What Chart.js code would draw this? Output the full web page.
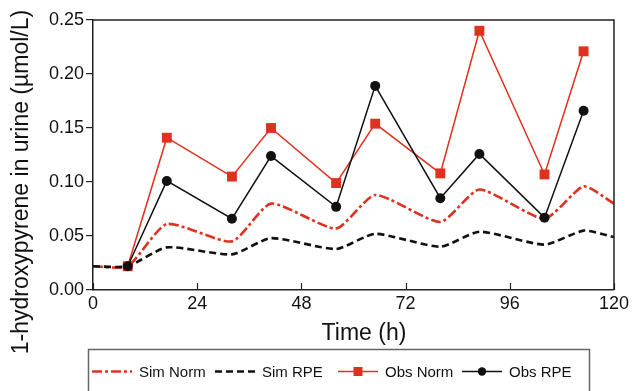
<!DOCTYPE html>
<html><head><meta charset="utf-8">
<script src="https://cdn.jsdelivr.net/npm/chart.js@4"></script>
<style>html,body{margin:0;padding:0;background:#fff}#wrap{width:632px;height:391px}</style>
</head><body><div id="wrap"><canvas id="c" width="632" height="391"></canvas></div>
<script>
const simTime = [0, 8, 17, 32, 41, 56, 65, 80, 89, 104, 113, 120];
const simNorm = [0.022, 0.022, 0.061, 0.045, 0.080, 0.057, 0.088, 0.063, 0.093, 0.066, 0.096, 0.080];
const simRPE  = [0.022, 0.022, 0.0395, 0.033, 0.048, 0.038, 0.052, 0.040, 0.054, 0.042, 0.055, 0.049];
const obsTime = [8, 17, 32, 41, 56, 65, 80, 89, 104, 113];
const obsNorm = [0.022, 0.141, 0.105, 0.150, 0.099, 0.154, 0.108, 0.240, 0.107, 0.221];
const obsRPE  = [0.022, 0.101, 0.066, 0.124, 0.077, 0.189, 0.085, 0.126, 0.067, 0.166];
const xTicks = [0, 24, 48, 72, 96, 120];
const yTicks = [0, 0.05, 0.10, 0.15, 0.20, 0.25];
const seriesLabels = ['Sim Norm', 'Sim RPE', 'Obs Norm', 'Obs RPE'];
const xTitle = 'Time (h)';
const yTitle = '1-hydroxypyrene in urine (\u00b5mol/L)';

const FONT = "'Liberation Sans', Arial, Helvetica, sans-serif";
const RED = '#e0301e';
const BLK = '#111111';
const AX = '#222222';

const pts = (xs, ys) => xs.map((x, i) => ({x, y: ys[i]}));

const decor = {
  id: 'decor',
  afterDraw(chart) {
    const ctx = chart.ctx;
    const a = chart.chartArea;
    const xs = chart.scales.x;
    ctx.save();
    ctx.strokeStyle = AX; ctx.lineWidth = 1.5;
    ctx.beginPath();
    ctx.moveTo(a.left, a.top); ctx.lineTo(a.right, a.top); ctx.lineTo(a.right, a.bottom);
    ctx.stroke();
    ctx.lineWidth = 1.2;
    xs.ticks.forEach(t => {
      const px = Math.round(xs.getPixelForValue(t.value)) + 0.5;
      ctx.beginPath(); ctx.moveTo(px, a.bottom); ctx.lineTo(px, a.bottom - 7); ctx.stroke();
    });
    ctx.fillStyle = '#111';
    ctx.font = '23px ' + FONT;
    ctx.textAlign = 'center'; ctx.textBaseline = 'alphabetic';
    ctx.fillText(xTitle, 364, 340);
    ctx.save();
    ctx.translate(28, 182); ctx.rotate(-Math.PI / 2);
    ctx.fillText(yTitle, 0, 0);
    ctx.restore();
    ctx.strokeStyle = '#666'; ctx.lineWidth = 1.5;
    ctx.strokeRect(88.5, 349.5, 501, 60);
    const cols = [92, 215, 338, 462];
    const ly = 371.5;
    ctx.font = '15px ' + FONT;
    ctx.textAlign = 'left'; ctx.textBaseline = 'middle';
    chart.data.datasets.forEach((ds, i) => {
      const x0 = cols[i];
      ctx.save();
      ctx.strokeStyle = ds.borderColor; ctx.lineWidth = ds.borderWidth;
      ctx.setLineDash(ds.borderDash || []);
      ctx.beginPath(); ctx.moveTo(x0, ly); ctx.lineTo(x0 + 40, ly); ctx.stroke();
      ctx.setLineDash([]);
      ctx.fillStyle = ds.borderColor;
      if (ds.pointRadius > 0) {
        if (ds.pointStyle === 'rect') {
          ctx.fillRect(x0 + 20 - 4.5, ly - 4.5, 9, 9);
        } else {
          ctx.beginPath(); ctx.arc(x0 + 20, ly, 4.2, 0, Math.PI * 2); ctx.fill();
        }
      }
      ctx.restore();
      ctx.fillStyle = '#111';
      ctx.fillText(ds.label, x0 + 47, ly + 1);
    });
    ctx.restore();
  }
};

new Chart(document.getElementById('c'), {
  type: 'line',
  data: {
    datasets: [
      {label: seriesLabels[0], data: pts(simTime, simNorm), borderColor: RED, borderWidth: 2.6,
       borderDash: [10, 3, 3, 3], pointRadius: 0, tension: 0.2, order: 3},
      {label: seriesLabels[1], data: pts(simTime, simRPE), borderColor: BLK, borderWidth: 2.6,
       borderDash: [7, 4], pointRadius: 0, tension: 0.2, order: 2},
      {label: seriesLabels[2], data: pts(obsTime, obsNorm), borderColor: RED, backgroundColor: RED,
       borderWidth: 1.5, pointStyle: 'rect', pointRadius: 7, pointBorderWidth: 0, order: 1},
      {label: seriesLabels[3], data: pts(obsTime, obsRPE), borderColor: BLK, backgroundColor: BLK,
       borderWidth: 1.5, pointStyle: 'circle', pointRadius: 5, pointBorderWidth: 0, order: 0}
    ]
  },
  options: {
    responsive: false, animation: false, devicePixelRatio: 1,
    layout: {padding: {top: 20, right: 17, left: 0, bottom: 0}},
    plugins: {legend: {display: false}, tooltip: {enabled: false}},
    scales: {
      x: {
        type: 'linear', min: 0, max: 120,
        afterBuildTicks: s => { s.ticks = xTicks.map(v => ({value: v})); },
        afterFit: s => { s.height = 101; },
        ticks: {font: {family: FONT, size: 18}, color: '#111', padding: 3, maxRotation: 0},
        grid: {drawOnChartArea: false, drawTicks: false},
        border: {color: AX, width: 1.5}
      },
      y: {
        min: 0, max: 0.25,
        afterBuildTicks: s => { s.ticks = yTicks.map(v => ({value: v})); },
        afterFit: s => { s.width = 93; },
        ticks: {font: {family: FONT, size: 18}, color: '#111', padding: 2,
                callback: v => Number(v).toFixed(2)},
        grid: {drawOnChartArea: false, drawTicks: true, tickLength: 7, color: AX, lineWidth: 1.2},
        border: {color: AX, width: 1.5}
      }
    }
  },
  plugins: [decor]
});
</script>
</body></html>
